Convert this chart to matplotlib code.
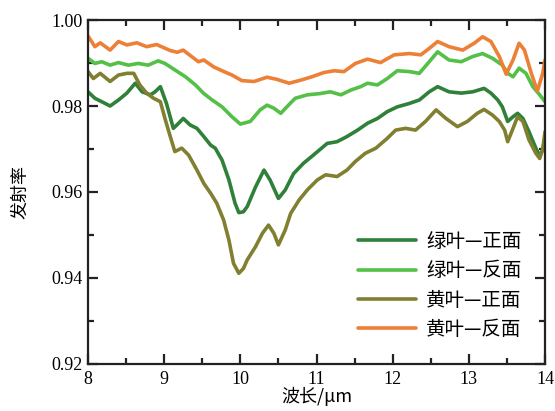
import matplotlib
matplotlib.use('Agg')
import matplotlib.pyplot as plt
from matplotlib.ticker import MultipleLocator

# data (wavelength in um, emissivity)
green_front_x = [8.00, 8.09, 8.18, 8.29, 8.40, 8.51, 8.62, 8.71, 8.82, 8.88, 8.95, 9.03,
                 9.12, 9.19, 9.25, 9.34, 9.43, 9.52, 9.61, 9.67, 9.76, 9.85, 9.93, 9.98,
                 10.04, 10.09, 10.20, 10.31, 10.39, 10.50, 10.59, 10.70, 10.83, 10.96,
                 11.14, 11.27, 11.40, 11.54, 11.67, 11.80, 11.93, 12.06, 12.22, 12.35,
                 12.48, 12.59, 12.74, 12.90, 13.05, 13.20, 13.29, 13.38, 13.44, 13.51,
                 13.58, 13.64, 13.71, 13.79, 13.88, 13.93, 13.97, 14.00]
green_front_y = [0.9833, 0.9818, 0.9810, 0.9800, 0.9814, 0.9830, 0.9853, 0.9833, 0.9826,
                 0.9833, 0.9845, 0.9806, 0.9748, 0.9760, 0.9771, 0.9756, 0.9748, 0.9729,
                 0.9709, 0.9702, 0.9674, 0.9628, 0.9574, 0.9552, 0.9554, 0.9566, 0.9612,
                 0.9651, 0.9628, 0.9585, 0.9605, 0.9643, 0.9667, 0.9686, 0.9713, 0.9717,
                 0.9729, 0.9744, 0.9760, 0.9771, 0.9787, 0.9798, 0.9806, 0.9814, 0.9833,
                 0.9845, 0.9833, 0.9830, 0.9833, 0.9841, 0.9830, 0.9814, 0.9798, 0.9764,
                 0.9775, 0.9783, 0.9771, 0.9740, 0.9702, 0.9684, 0.9698, 0.9725]

green_back_x = [8.00, 8.09, 8.18, 8.29, 8.40, 8.53, 8.66, 8.79, 8.92, 9.01, 9.14, 9.28,
                9.41, 9.52, 9.63, 9.76, 9.89, 10.00, 10.13, 10.26, 10.35, 10.44, 10.53,
                10.61, 10.72, 10.88, 11.05, 11.18, 11.32, 11.45, 11.58, 11.67, 11.80,
                11.93, 12.06, 12.22, 12.35, 12.48, 12.59, 12.74, 12.90, 13.05, 13.18,
                13.31, 13.44, 13.51, 13.58, 13.66, 13.75, 13.84, 13.93, 14.00]
green_back_y = [0.9911, 0.9899, 0.9903, 0.9895, 0.9901, 0.9895, 0.9899, 0.9895, 0.9905,
                0.9899, 0.9884, 0.9868, 0.9849, 0.9829, 0.9814, 0.9798, 0.9775, 0.9758,
                0.9764, 0.9791, 0.9802, 0.9795, 0.9783, 0.9798, 0.9818, 0.9826, 0.9829,
                0.9833, 0.9826, 0.9837, 0.9845, 0.9853, 0.9849, 0.9864, 0.9882, 0.9880,
                0.9876, 0.9903, 0.9926, 0.9907, 0.9903, 0.9915, 0.9922, 0.9911, 0.9895,
                0.9876, 0.9868, 0.9888, 0.9876, 0.9845, 0.9826, 0.9810]

yellow_front_x = [8.00, 8.07, 8.16, 8.29, 8.40, 8.51, 8.60, 8.68, 8.77, 8.86, 8.95, 9.01,
                  9.08, 9.14, 9.23, 9.32, 9.43, 9.52, 9.61, 9.69, 9.78, 9.85, 9.91, 9.98,
                  10.04, 10.09, 10.20, 10.29, 10.37, 10.44, 10.50, 10.59, 10.66, 10.77,
                  10.88, 11.01, 11.12, 11.27, 11.40, 11.51, 11.64, 11.78, 11.93, 12.04,
                  12.17, 12.30, 12.43, 12.57, 12.70, 12.85, 12.98, 13.11, 13.20, 13.31,
                  13.40, 13.47, 13.51, 13.58, 13.64, 13.71, 13.79, 13.88, 13.93, 13.97,
                  14.00]
yellow_front_y = [0.9880, 0.9864, 0.9876, 0.9857, 0.9872, 0.9876, 0.9876, 0.9849, 0.9830,
                  0.9818, 0.9810, 0.9771, 0.9729, 0.9694, 0.9702, 0.9686, 0.9651, 0.9620,
                  0.9597, 0.9574, 0.9535, 0.9488, 0.9434, 0.9411, 0.9422, 0.9442, 0.9473,
                  0.9504, 0.9523, 0.9504, 0.9477, 0.9512, 0.9550, 0.9581, 0.9605, 0.9628,
                  0.9640, 0.9636, 0.9651, 0.9671, 0.9690, 0.9702, 0.9725, 0.9744, 0.9748,
                  0.9744, 0.9764, 0.9791, 0.9771, 0.9752, 0.9764, 0.9783, 0.9792, 0.9779,
                  0.9764, 0.9744, 0.9717, 0.9748, 0.9775, 0.9764, 0.9721, 0.9690, 0.9678,
                  0.9700, 0.9740]

yellow_back_x = [8.00, 8.09, 8.16, 8.29, 8.40, 8.51, 8.64, 8.77, 8.90, 9.08, 9.17, 9.25,
                 9.36, 9.45, 9.52, 9.65, 9.76, 9.89, 10.02, 10.18, 10.35, 10.48, 10.64,
                 10.79, 10.94, 11.10, 11.23, 11.36, 11.51, 11.67, 11.84, 12.02, 12.22,
                 12.37, 12.48, 12.59, 12.74, 12.92, 13.07, 13.18, 13.29, 13.40, 13.49,
                 13.58, 13.66, 13.73, 13.82, 13.90, 13.97, 14.00]
yellow_back_y = [0.9963, 0.9938, 0.9947, 0.9930, 0.9950, 0.9942, 0.9947, 0.9938, 0.9943,
                 0.9929, 0.9925, 0.9930, 0.9915, 0.9903, 0.9907, 0.9891, 0.9882, 0.9872,
                 0.9859, 0.9857, 0.9867, 0.9862, 0.9853, 0.9860, 0.9868, 0.9878, 0.9882,
                 0.9880, 0.9899, 0.9909, 0.9901, 0.9919, 0.9922, 0.9919, 0.9934, 0.9950,
                 0.9938, 0.9930, 0.9946, 0.9961, 0.9950, 0.9915, 0.9874, 0.9907, 0.9946,
                 0.9930, 0.9876, 0.9835, 0.9876, 0.9907]

labels = ['绿叶—正面', '绿叶—反面', '黄叶—正面', '黄叶—反面']
colors = ['#2f8038', '#54c047', '#808030', '#ec8036']

# numbers in a Times-like face, Chinese text in the CJK family
plt.rcParams['font.family'] = ['Liberation Serif', 'DejaVu Serif']
cjk = ['Noto Sans CJK SC', 'DejaVu Sans']

fig = plt.figure(figsize=(5.55, 4.11), dpi=100)
ax = fig.add_axes([0.1586, 0.1144, 0.8234, 0.8369])

series = [(green_front_x, green_front_y), (green_back_x, green_back_y),
          (yellow_front_x, yellow_front_y), (yellow_back_x, yellow_back_y)]
for (xs, ys), lab, c in zip(series, labels, colors):
    ax.plot(xs, ys, color=c, lw=2.6, label=lab, solid_capstyle='round',
            solid_joinstyle='round')

ax.set_xlim(8, 14)
ax.set_ylim(0.92, 1.00)
ax.xaxis.set_major_locator(MultipleLocator(1))
ax.xaxis.set_minor_locator(MultipleLocator(0.5))
ax.yaxis.set_major_locator(MultipleLocator(0.02))
ax.yaxis.set_minor_locator(MultipleLocator(0.01))
ax.yaxis.set_major_formatter(plt.FormatStrFormatter('%.2f'))

ax.tick_params(which='both', direction='in', top=True, right=True,
               width=1.6, color='#222222')
ax.tick_params(which='major', length=7, labelsize=13, pad=4)
ax.tick_params(which='minor', length=4.5)
ax.tick_params(axis='x', which='major', pad=5)
for s in ax.spines.values():
    s.set_linewidth(1.6)
    s.set_color('#222222')

ax.set_xlabel('波长/μm', fontfamily=cjk, fontsize=13, labelpad=-1)
ax.set_ylabel('发射率', fontfamily=cjk, fontsize=13, labelpad=16)

leg = ax.legend(loc='lower right', frameon=False, prop={'family': cjk, 'size': 14},
                handlelength=3.0, handletextpad=0.5, labelspacing=0.43,
                borderaxespad=0.0, bbox_to_anchor=(0.965, 0.047))

fig.savefig('out.png', dpi=100)
